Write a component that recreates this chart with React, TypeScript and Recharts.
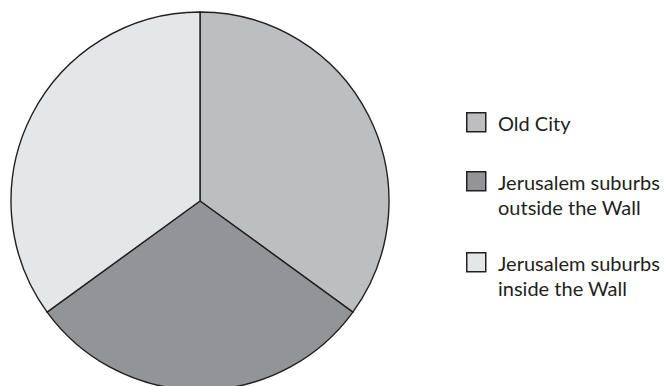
import React from "react";
import { PieChart, Pie, Cell } from "recharts";

const categories = ["Old City", "Jerusalem suburbs outside the Wall", "Jerusalem suburbs inside the Wall"];
const values = [35, 30, 35];
const legendLines = [["Old City"], ["Jerusalem suburbs", "outside the Wall"], ["Jerusalem suburbs", "inside the Wall"]];
const colors = ["#bdbec0", "#939497", "#e5e6e8"];

const data = categories.map((name, i) => ({ name, value: values[i] }));

const itemTops = [112, 171, 252];

function LegendBox() {
  return (
    <div style={{ position: "absolute", left: 466, top: 112, width: 200, height: 220 }}>
      {legendLines.map((lines, i) => (
        <div key={i} style={{ position: "absolute", left: 0, top: itemTops[i] - 112 }}>
          <svg width={21} height={21} style={{ position: "absolute", left: 0, top: 0 }}>
            <rect x={0.75} y={0.75} width={19} height={19} fill={colors[i]} stroke="#231f20" strokeWidth={1.5} />
          </svg>
          <div
            style={{
              position: "absolute",
              left: 32,
              top: -1,
              fontFamily: "Lato, sans-serif",
              fontSize: 20,
              lineHeight: "25px",
              color: "#231f20",
              whiteSpace: "nowrap",
            }}
          >
            {lines.map((l, j) => (
              <div key={j}>{l}</div>
            ))}
          </div>
        </div>
      ))}
    </div>
  );
}

export default function App() {
  return (
    <div style={{ position: "absolute", left: 0, top: 0, width: 666, height: 386, background: "#fff" }}>
      <PieChart width={666} height={386} margin={{ top: 0, right: 0, bottom: 0, left: 0 }}>
        <Pie
          data={data}
          dataKey="value"
          nameKey="name"
          cx={200}
          cy={201}
          outerRadius={189}
          startAngle={90}
          endAngle={-270}
          stroke="#231f20"
          strokeWidth={1.4}
          isAnimationActive={false}
        >
          {data.map((d, i) => (
            <Cell key={d.name} fill={colors[i]} />
          ))}
        </Pie>
      </PieChart>
      <LegendBox />
    </div>
  );
}
